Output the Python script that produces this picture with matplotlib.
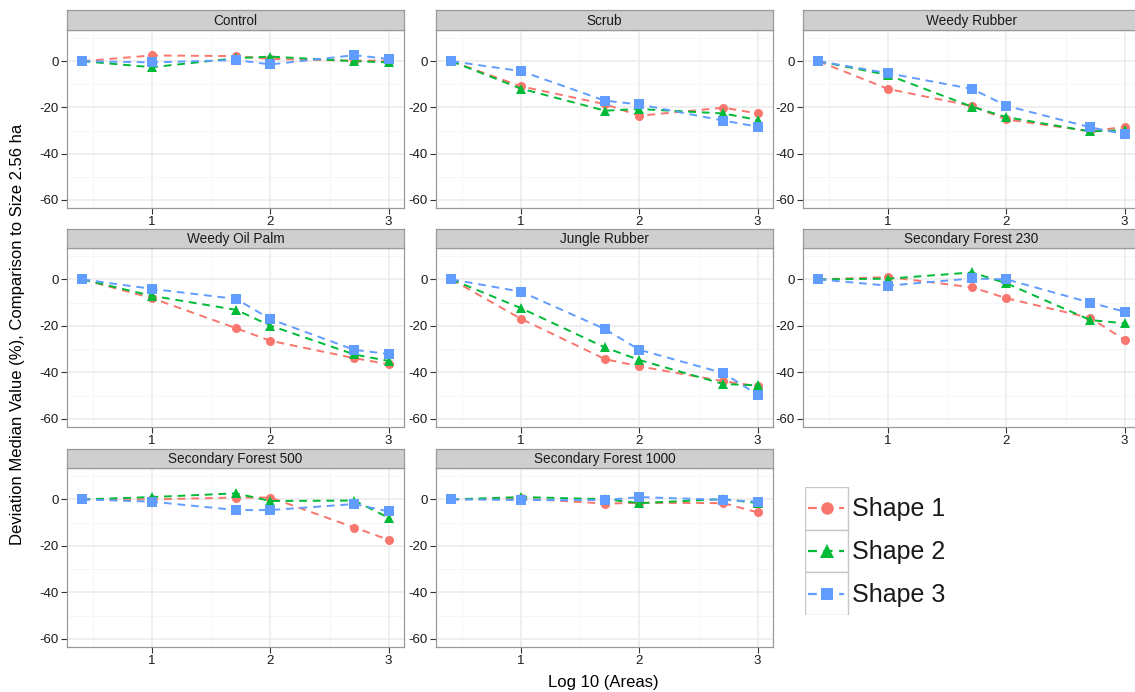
import matplotlib
matplotlib.use("Agg")
import matplotlib.pyplot as plt
from matplotlib.patches import Rectangle

plt.rcParams["font.family"] = ["Liberation Sans", "DejaVu Sans"]
plt.rcParams["axes.unicode_minus"] = False

# ---- data --------------------------------------------------------------
panels = ["Control", "Scrub", "Weedy Rubber", "Weedy Oil Palm", "Jungle Rubber",
          "Secondary Forest 230", "Secondary Forest 500", "Secondary Forest 1000"]
log_area = [0.41, 1.0, 1.71, 2.0, 2.71, 3.0]
shape_labels = ["Shape 1", "Shape 2", "Shape 3"]

shape1 = [
    [0, 2.5, 2.2, 1.0, 0.2, 0.3],
    [0, -10.9, -18.6, -23.6, -20.1, -22.6],
    [0, -12.0, -19.4, -25.2, -30.3, -28.4],
    [0, -8.1, -21.0, -26.4, -33.9, -36.5],
    [0, -17.0, -34.3, -37.4, -43.8, -45.9],
    [0, 1.0, -3.4, -8.1, -16.6, -26.0],
    [0, 0.0, 0.8, 0.8, -12.1, -17.4],
    [0, 0.4, -1.8, -1.5, -1.6, -5.6],
]
shape2 = [
    [0, -2.6, 1.3, 2.0, 0.0, -0.5],
    [0, -11.9, -21.4, -20.7, -22.6, -25.4],
    [0, -6.0, -19.7, -24.2, -30.4, -29.8],
    [0, -7.1, -13.1, -19.9, -32.3, -35.1],
    [0, -12.4, -29.3, -34.7, -45.0, -45.6],
    [0, 0.3, 3.0, -1.7, -17.5, -18.9],
    [0, 1.0, 2.6, -0.7, -0.5, -7.9],
    [0, 1.0, 0.1, -1.6, 0.1, -1.6],
]
shape3 = [
    [0, -0.5, 0.5, -1.4, 2.6, 1.0],
    [0, -4.3, -17.1, -18.7, -25.7, -28.3],
    [0, -5.2, -12.0, -19.3, -28.6, -31.6],
    [0, -4.1, -8.4, -17.1, -30.3, -32.1],
    [0, -5.3, -21.4, -30.3, -40.3, -49.6],
    [0, -2.7, 0.4, 0.0, -10.0, -13.9],
    [0, -1.0, -4.6, -4.6, -2.0, -5.2],
    [0, -0.3, -0.3, 1.0, -0.2, -1.0],
]

y_ticks = [0, -20, -40, -60]
y_ticklabels = ["0", "-20", "-40", "-60"]
x_ticks = [1, 2, 3]
x_ticklabels = ["1", "2", "3"]

# ---- styles -------------------------------------------------------------
colors = ["#F8766D", "#00BA38", "#619CFF"]
markers = ["o", "^", "s"]
msizes = [6.5, 7.5, 6.5]

W, H = 1135, 692
fig = plt.figure(figsize=(W / 100, H / 100), dpi=100)
fig.patch.set_facecolor("white")


def px_axes(x0, y0, x1, y1):
    return fig.add_axes([x0 / W, 1 - y1 / H, (x1 - x0) / W, (y1 - y0) / H])


col_left = [67, 436, 803]
col_w = 337
row_strip_top = [10, 229, 449]
row_plot_top = [30, 248, 468]
row_plot_bot = [208, 427, 647]

border = "#9A9A9A"
series = [shape1, shape2, shape3]

for i, name in enumerate(panels):
    r, c = divmod(i, 3)
    x0 = col_left[c]
    x1 = x0 + col_w

    ax = px_axes(x0, row_plot_top[r], x1, row_plot_bot[r])
    ax.set_xlim(0.28, 3.13)
    ax.set_ylim(-63.5, 13.5)
    ax.set_xticks(x_ticks)
    ax.set_xticklabels(x_ticklabels)
    ax.set_yticks(y_ticks)
    ax.set_yticklabels(y_ticklabels)
    ax.set_xticks([0.5, 1.5, 2.5], minor=True)
    ax.set_yticks([10, -10, -30, -50], minor=True)
    ax.grid(True, which="major", color="#EBEBEB", linewidth=1.1)
    ax.grid(True, which="minor", color="#F5F5F5", linewidth=0.6)
    ax.set_axisbelow(True)
    ax.tick_params(which="major", length=4, width=0.8, color="#333333",
                   labelsize=9.5, labelcolor="#1A1A1A", pad=2)
    ax.tick_params(which="minor", length=0)
    for sp in ax.spines.values():
        sp.set_color(border)
        sp.set_linewidth(0.9)

    for k in range(3):
        ax.plot(log_area, series[k][i], color=colors[k], linestyle=(0, (4, 3)),
                linewidth=1.4, marker=markers[k], markersize=msizes[k],
                markeredgewidth=0, zorder=3 + k)

    sx = px_axes(x0, row_strip_top[r], x1, row_plot_top[r])
    sx.set_facecolor("#CFCFCF")
    sx.set_xticks([])
    sx.set_yticks([])
    for sp in sx.spines.values():
        sp.set_color(border)
        sp.set_linewidth(0.9)
    sx.text(0.5, 0.47, name, ha="center", va="center", fontsize=9.8,
            color="#1A1A1A", transform=sx.transAxes)

fig.text(603 / W, 1 - 682 / H, "Log 10 (Areas)", ha="center", va="center",
         fontsize=12)
fig.text(18 / W, 1 - 334 / H,
         "Deviation Median Value (%), Comparison to Size 2.56 ha",
         ha="center", va="center", rotation=90, fontsize=12)

# ---- legend -------------------------------------------------------------
lg = px_axes(805, 487, 1000, 615)
lg.set_xlim(0, 195)
lg.set_ylim(128, 0)
lg.axis("off")
key = 42.7
for k, lab in enumerate(shape_labels):
    top = k * key
    lg.add_patch(Rectangle((0, top), 43, key, facecolor="white",
                           edgecolor="#C8C8C8", linewidth=1.0))
    cy = top + key / 2
    lg.plot([3, 39], [cy, cy], color=colors[k], linestyle=(0, (4, 3)),
            linewidth=1.6)
    lg.plot([21.5], [cy], color=colors[k], marker=markers[k],
            markersize=msizes[k] + 2.5, markeredgewidth=0, linestyle="none")
    lg.text(47, cy + 1, lab, ha="left", va="center", fontsize=18,
            color="#1A1A1A")

fig.savefig("out.png", dpi=100)
